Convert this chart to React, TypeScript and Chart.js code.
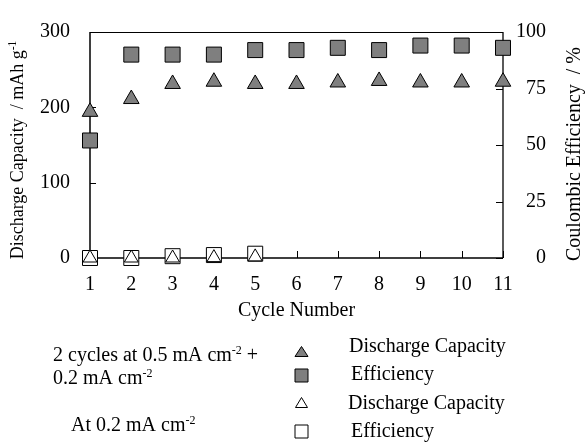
import React, { useEffect, useRef } from "react";
import { Chart, registerables } from "chart.js";

Chart.register(...registerables);

const cycles = [1, 2, 3, 4, 5, 6, 7, 8, 9, 10, 11];
const capacityMixed = [194, 211, 231, 234, 231, 231, 233, 235, 233, 233, 234];
const efficiencyMixed = [52, 90, 90, 90, 92, 92, 93, 92, 94, 94, 93];
const cyclesLow = [1, 2, 3, 4, 5];
const capacityLow = [0, 0, 0, 0.5, 1.5];
const efficiencyLow = [0, 0, 0.8, 1.3, 1.9];

const leftTicks = [0, 100, 200, 300];
const rightTicks = [0, 25, 50, 75, 100];

const xTitle = "Cycle Number";
const leftTitle = [{ text: "Discharge Capacity  / mAh g" }, { text: "-1", sup: true }];
const rightTitle = [{ text: "Coulombic Efficiency  / %" }];
const groupMixedLines = [
  [{ text: "2 cycles at 0.5 mA cm" }, { text: "-2", sup: true }, { text: " +" }],
  [{ text: "0.2 mA cm" }, { text: "-2", sup: true }],
];
const groupLowLines = [[{ text: "At 0.2 mA cm" }, { text: "-2", sup: true }]];
const legendLabels = ["Discharge Capacity", "Efficiency", "Discharge Capacity", "Efficiency"];

const FONT = '"Liberation Serif", "Times New Roman", serif';
const GRAY = "#7f7f7f";

type Run = { text: string; sup?: boolean };

function setFont(ctx: CanvasRenderingContext2D, size: number) {
  ctx.font = `${size}px ${FONT}`;
}

function runsWidth(ctx: CanvasRenderingContext2D, runs: Run[], size: number, supSize: number) {
  let w = 0;
  for (const r of runs) {
    setFont(ctx, r.sup ? supSize : size);
    w += ctx.measureText(r.text).width;
  }
  return w;
}

function drawRuns(
  ctx: CanvasRenderingContext2D,
  runs: Run[],
  x: number,
  y: number,
  size: number,
  supSize: number,
  raise: number
) {
  let cx = x;
  for (const r of runs) {
    setFont(ctx, r.sup ? supSize : size);
    ctx.fillText(r.text, cx, r.sup ? y - raise : y);
    cx += ctx.measureText(r.text).width;
  }
}

function marker(
  ctx: CanvasRenderingContext2D,
  kind: "tri" | "sq",
  cx: number,
  cy: number,
  w: number,
  h: number,
  fill: string
) {
  ctx.beginPath();
  if (kind === "tri") {
    ctx.moveTo(cx, cy - h / 2);
    ctx.lineTo(cx + w / 2, cy + h / 2);
    ctx.lineTo(cx - w / 2, cy + h / 2);
    ctx.closePath();
  } else {
    ctx.rect(cx - w / 2, cy - h / 2, w, h);
  }
  ctx.fillStyle = fill;
  ctx.fill();
  ctx.lineWidth = 1;
  ctx.strokeStyle = "#000";
  ctx.stroke();
}

const framePlugin = {
  id: "frame",
  beforeDatasetsDraw(chart: any) {
    const ctx: CanvasRenderingContext2D = chart.ctx;
    const { left, right, top, bottom } = chart.chartArea;
    const y = chart.scales.y;
    const y1 = chart.scales.y1;
    const x = chart.scales.x;
    ctx.save();
    ctx.strokeStyle = "#000";
    ctx.lineWidth = 1;
    ctx.beginPath();
    ctx.moveTo(left, top + 0.5);
    ctx.lineTo(right, top + 0.5);
    ctx.stroke();
    ctx.lineWidth = 1.5;
    ctx.beginPath();
    ctx.moveTo(left, top);
    ctx.lineTo(left, bottom);
    ctx.lineTo(right, bottom);
    ctx.stroke();
    ctx.lineWidth = 1.3;
    ctx.beginPath();
    ctx.moveTo(right, top);
    ctx.lineTo(right, bottom);
    ctx.stroke();
    ctx.lineWidth = 1;
    ctx.beginPath();
    for (const v of leftTicks) {
      const py = Math.round(y.getPixelForValue(v)) + 0.5;
      ctx.moveTo(left, py);
      ctx.lineTo(left + 6, py);
    }
    for (const v of rightTicks) {
      const py = Math.round(y1.getPixelForValue(v)) + 0.5;
      ctx.moveTo(right, py);
      ctx.lineTo(right - 7, py);
    }
    for (const v of cycles) {
      const px = Math.round(x.getPixelForValue(v)) + 0.5;
      ctx.moveTo(px, bottom);
      ctx.lineTo(px, bottom - 7);
    }
    ctx.stroke();

    // right-axis tick labels, right aligned
    ctx.fillStyle = "#000";
    setFont(ctx, 20);
    ctx.textAlign = "right";
    ctx.textBaseline = "middle";
    for (const v of rightTicks) {
      ctx.fillText(String(v), right + 43, y1.getPixelForValue(v));
    }
    ctx.restore();
  },
  afterDraw(chart: any) {
    const ctx: CanvasRenderingContext2D = chart.ctx;
    const { left, right, top, bottom } = chart.chartArea;
    ctx.save();
    ctx.fillStyle = "#000";
    ctx.textBaseline = "alphabetic";
    ctx.textAlign = "left";

    // x title
    setFont(ctx, 20);
    const xw = ctx.measureText(xTitle).width;
    ctx.fillText(xTitle, (left + right) / 2 - xw / 2, bottom + 58);

    // left title (rotated)
    const lw = runsWidth(ctx, leftTitle, 18, 11.5);
    ctx.save();
    ctx.translate(23, (top + bottom) / 2 + 5);
    ctx.rotate(-Math.PI / 2);
    drawRuns(ctx, leftTitle, -lw / 2, 0, 18, 11.5, 7);
    ctx.restore();

    // right title (rotated)
    const rw = runsWidth(ctx, rightTitle, 20, 12);
    ctx.save();
    ctx.translate(580, (top + bottom) / 2 + 9);
    ctx.rotate(-Math.PI / 2);
    drawRuns(ctx, rightTitle, -rw / 2, 0, 20, 12, 7);
    ctx.restore();

    // legend group text
    drawRuns(ctx, groupMixedLines[0], 53, 361, 20, 12, 7);
    drawRuns(ctx, groupMixedLines[1], 53, 384, 20, 12, 7);
    drawRuns(ctx, groupLowLines[0], 71, 431, 20, 12, 7);

    // legend markers
    marker(ctx, "tri", 301.5, 351.5, 13, 10, GRAY);
    marker(ctx, "sq", 301.5, 375.5, 13, 13, GRAY);
    marker(ctx, "tri", 301.5, 402.5, 12, 10, "#fff");
    marker(ctx, "sq", 301.5, 431.5, 13, 13, "#fff");

    // legend labels
    ctx.fillStyle = "#000";
    setFont(ctx, 20);
    ctx.fillText(legendLabels[0], 349, 352);
    ctx.fillText(legendLabels[1], 351, 380);
    ctx.fillText(legendLabels[2], 348, 409);
    ctx.fillText(legendLabels[3], 351, 437);
    ctx.restore();
  },
};

export default function App() {
  const ref = useRef<HTMLCanvasElement>(null);

  useEffect(() => {
    if (!ref.current) return;
    const toPts = (xs: number[], ys: number[]) => xs.map((x, i) => ({ x, y: ys[i] }));
    const chart = new Chart(ref.current, {
      type: "scatter",
      data: {
        datasets: [
          {
            label: "Discharge Capacity (0.2)",
            data: toPts(cyclesLow, capacityLow),
            yAxisID: "y",
            pointStyle: "triangle",
            pointRadius: 8,
            backgroundColor: "#fff",
            borderColor: "#000",
            borderWidth: 1,
            clip: false,
          },
          {
            label: "Efficiency (0.2)",
            data: toPts(cyclesLow, efficiencyLow),
            yAxisID: "y1",
            pointStyle: "rect",
            pointRadius: 10.6,
            backgroundColor: "#fff",
            borderColor: "#000",
            borderWidth: 1,
            clip: false,
          },
          {
            label: "Discharge Capacity",
            data: toPts(cycles, capacityMixed),
            yAxisID: "y",
            pointStyle: "triangle",
            pointRadius: 9,
            backgroundColor: GRAY,
            borderColor: "#000",
            borderWidth: 1,
            clip: false,
          },
          {
            label: "Efficiency",
            data: toPts(cycles, efficiencyMixed),
            yAxisID: "y1",
            pointStyle: "rect",
            pointRadius: 10.6,
            backgroundColor: GRAY,
            borderColor: "#000",
            borderWidth: 1,
            clip: false,
          },
        ] as any,
      },
      options: {
        responsive: false,
        animation: false,
        devicePixelRatio: 1,
        layout: { padding: { top: 22, bottom: 144, left: 0, right: 0 } },
        plugins: { legend: { display: false }, tooltip: { enabled: false } },
        scales: {
          x: {
            type: "linear",
            min: 1,
            max: 11,
            afterFit: (s: any) => {
              s.height = 40;
            },
            afterBuildTicks: (s: any) => {
              s.ticks = cycles.map((v) => ({ value: v }));
            },
            grid: { display: false, drawTicks: false },
            border: { display: false },
            ticks: {
              color: "#000",
              font: { family: FONT, size: 20 },
              padding: 15,
              maxRotation: 0,
              autoSkip: false,
            },
          },
          y: {
            type: "linear",
            position: "left",
            min: 0,
            max: 300,
            afterFit: (s: any) => {
              s.width = 90;
            },
            afterBuildTicks: (s: any) => {
              s.ticks = leftTicks.map((v) => ({ value: v }));
            },
            grid: { display: false, drawTicks: false },
            border: { display: false },
            ticks: { color: "#000", font: { family: FONT, size: 20 }, padding: 20 },
          },
          y1: {
            type: "linear",
            position: "right",
            min: 0,
            max: 100,
            afterFit: (s: any) => {
              s.width = 83;
            },
            afterBuildTicks: (s: any) => {
              s.ticks = rightTicks.map((v) => ({ value: v }));
            },
            grid: { display: false, drawTicks: false },
            border: { display: false },
            ticks: { display: false },
          },
        },
      } as any,
      plugins: [framePlugin],
    });
    return () => chart.destroy();
  }, []);

  return (
    <div style={{ position: "fixed", left: 0, top: 0, width: 586, height: 442, background: "#fff" }}>
      <canvas ref={ref} width={586} height={442} style={{ display: "block" }} />
    </div>
  );
}
